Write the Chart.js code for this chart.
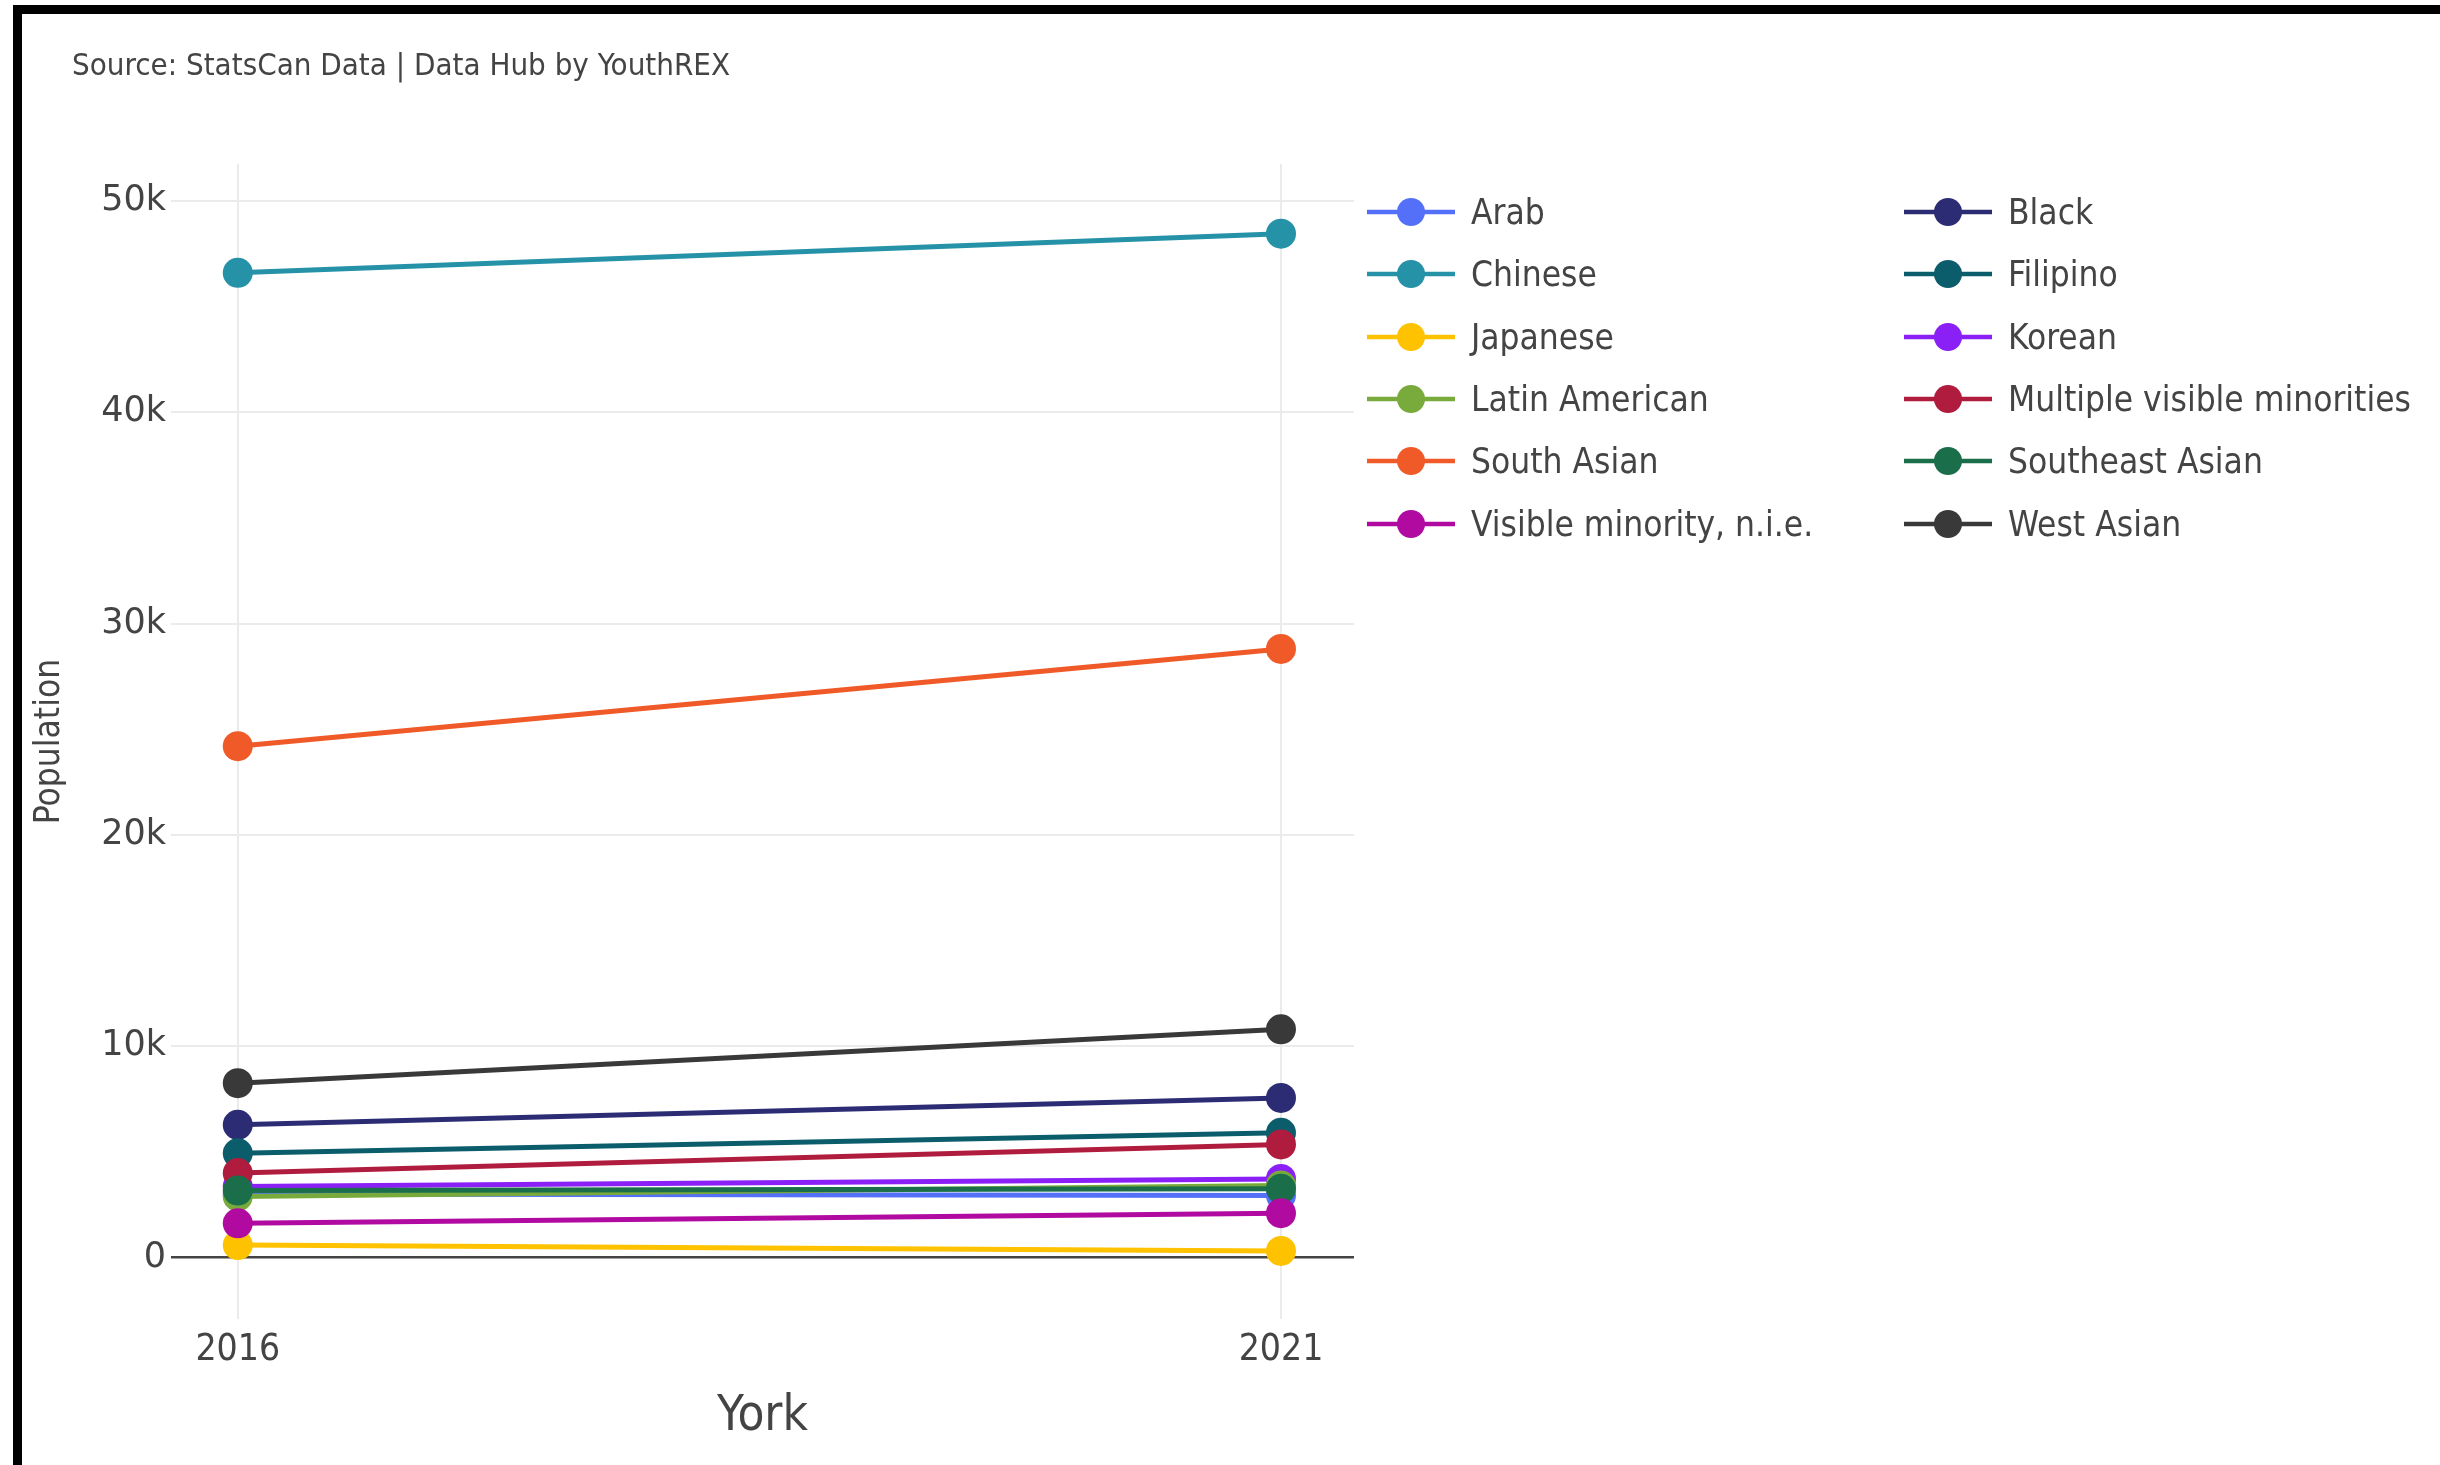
<!DOCTYPE html>
<html>
<head>
<meta charset="utf-8">
<title>Visible minority population, York</title>
<script src="https://cdn.jsdelivr.net/npm/chart.js@4.4.1/dist/chart.umd.min.js"></script>
<style>
  html, body { margin: 0; padding: 0; background: #fff; }
  body {
    width: 2440px; height: 1465px; position: relative; overflow: hidden;
    font-family: "Liberation Sans Narrow", "DejaVu Sans Condensed", sans-serif;
    color: #444;
  }
  #frame {
    position: absolute; left: 13px; top: 5px; right: -20px; bottom: -20px;
    border-top: 9px solid #000; border-left: 9px solid #000;
  }
  #source { position: absolute; left: 72px; top: 49px; font-size: 31px; line-height: 31px; }
  #wrap { position: absolute; left: 0; top: 0; width: 2440px; height: 1465px; }
  #legend {
    position: absolute; left: 1367px; top: 181px;
    display: grid; grid-template-columns: 537px auto; grid-auto-rows: 62.3px;
  }
  .item { display: flex; align-items: center; font-size: 35px; white-space: nowrap; }
  .item svg { margin-right: 16px; flex: none; }
</style>
</head>
<body>
<div id="frame"></div>
<div id="wrap"><canvas id="chart"></canvas></div>
<div id="source">Source: StatsCan Data | Data Hub by YouthREX</div>
<div id="legend"></div>

<script>
/* Visible minority groups in York, census 2016 vs 2021 */

const YEARS = [2016, 2021];

const GROUPS = [
  "Arab", "Black", "Chinese", "Filipino", "Japanese", "Korean",
  "Latin American", "Multiple visible minorities", "South Asian",
  "Southeast Asian", "Visible minority, n.i.e.", "West Asian",
];

const COLORS = [
  "#5570f8", "#2b2c74", "#2592a8", "#0b5d6b", "#fec200", "#8a20f5",
  "#79ab3c", "#b01c3e", "#f05a28", "#1a6f4a", "#b00aa0", "#393939",
];

// values
const POP_2016 = [3000, 6280, 46600, 4930, 590, 3360, 2890, 4000, 24200, 3170, 1620, 8250];
const POP_2021 = [2940, 7550, 48450, 5900, 310, 3720, 3410, 5350, 28800, 3250, 2100, 10800];

const Y_TICKS = [0, 10000, 20000, 30000, 40000, 50000];
const X_TICKS = YEARS;

const FONT = "'Liberation Sans Narrow', 'DejaVu Sans Condensed', sans-serif";
const TEXT = "#444";

function fillLegend() {
  const el = document.getElementById("legend");
  el.innerHTML = GROUPS.map(
    (g, i) => `<div class="item">
      <svg width="88" height="30" viewBox="0 0 88 30">
        <line x1="0" y1="15" x2="88" y2="15" stroke="${COLORS[i]}" stroke-width="4.5"/>
        <circle cx="44" cy="15" r="14" fill="${COLORS[i]}"/>
      </svg><span>${g}</span></div>`,
  ).join("");
}

function chart() {
  const datasets = GROUPS.map((g, i) => ({
    label: g,
    data: YEARS.map((y, k) => ({ x: y, y: k === 0 ? POP_2016[i] : POP_2021[i] })),
    borderColor: COLORS[i],
    backgroundColor: COLORS[i],
    borderWidth: 5,
    pointRadius: 15,
    pointBorderWidth: 0,
    pointBackgroundColor: COLORS[i],
    order: GROUPS.length - i,
    clip: false,
  }));

  new Chart(document.getElementById("chart"), {
    type: "line",
    data: { datasets },
    options: {
      responsive: true,
      maintainAspectRatio: false,
      animation: false,
      layout: { padding: { left: 0, top: 164, right: 1086, bottom: 0 } },
      scales: {
        x: {
          type: "linear",
          min: 2015.68,
          max: 2021.35,
          afterBuildTicks: (s) => { s.ticks = X_TICKS.map((v) => ({ value: v })); },
          afterFit: (s) => { s.height = 146; },
          ticks: {
            padding: 9,
            color: TEXT,
            font: { family: FONT, size: 37 },
            callback: (v) => String(v),
            maxRotation: 0,
          },
          grid: { color: "#ebebeb", lineWidth: 2, drawTicks: false },
          border: { display: false },
          title: {
            display: true,
            text: "York",
            color: TEXT,
            font: { family: FONT, size: 49 },
            padding: { top: 0, bottom: 18 },
          },
        },
        y: {
          min: -2910,
          max: 51750,
          afterBuildTicks: (s) => { s.ticks = Y_TICKS.map((v) => ({ value: v })); },
          afterFit: (s) => { s.width = 171; },
          ticks: {
            padding: 5,
            color: TEXT,
            font: { family: "'DejaVu Sans', sans-serif", size: 35 },
            callback: (v) => (v === 0 ? "0" : v / 1000 + "k"),
          },
          grid: {
            color: (c) => (c.tick && c.tick.value === 0 ? "#444" : "#ebebeb"),
            lineWidth: (c) => (c.tick && c.tick.value === 0 ? 2.5 : 2),
            drawTicks: false,
          },
          border: { display: false },
          title: {
            display: true,
            text: "Population",
            color: TEXT,
            font: { family: FONT, size: 35 },
            padding: { top: 29, bottom: 0 },
          },
        },
      },
      plugins: {
        legend: { display: false },
        tooltip: { enabled: false },
      },
    },
  });
}

function init() {
  fillLegend();
  chart();
}

if (document.readyState === "loading") {
  document.addEventListener("DOMContentLoaded", init);
} else {
  init();
}
</script>
</body>
</html>
